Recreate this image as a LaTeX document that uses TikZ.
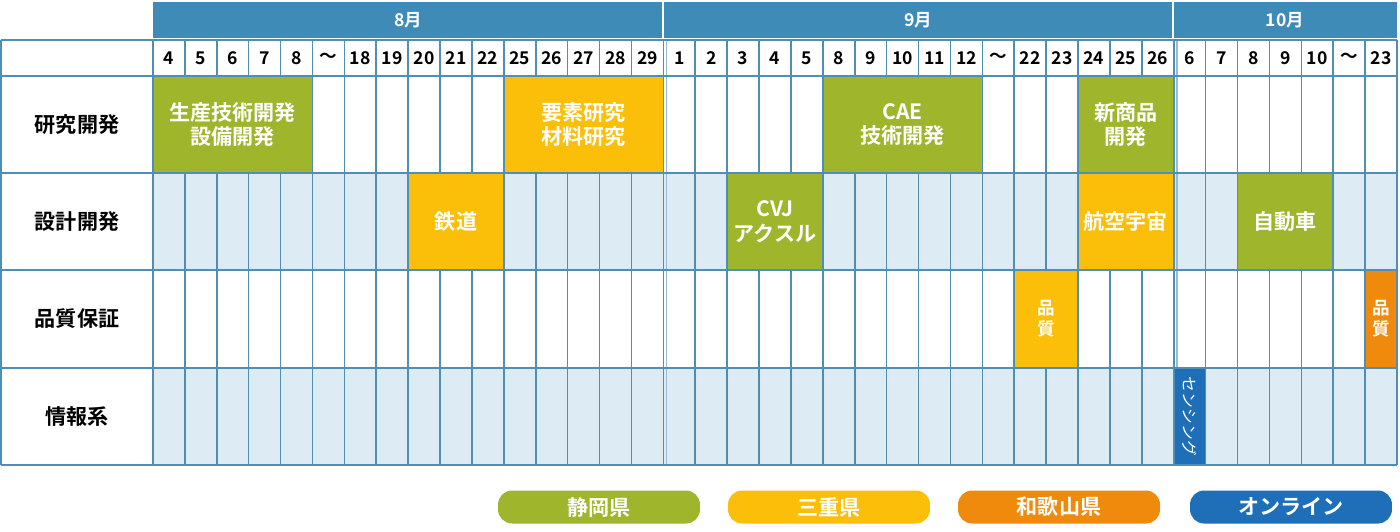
\documentclass[tikz,border=0pt]{standalone}
\usepackage{fontspec}
\setmainfont{Noto Sans CJK JP}[BoldFont={Noto Sans CJK JP Bold}]
\definecolor{gridc}{HTML}{4F8FB5}
\definecolor{headc}{HTML}{3F8BB8}
\definecolor{paleb}{HTML}{DDEBF5}
\definecolor{shizuoka}{HTML}{9EB52C}
\definecolor{mie}{HTML}{FBBF0A}
\definecolor{wakayama}{HTML}{EF8A0C}
\definecolor{online}{HTML}{1F6FB8}
\newcommand{\cw}{31.897}
\tikzset{
  block/.style={inner sep=0pt, text=white, font=\bfseries\large, align=center},
  day/.style={font=\bfseries, text=black},
  rowlab/.style={font=\bfseries\large, text=black},
  pill/.style={rounded corners=8pt, text=white, font=\bfseries\large, minimum width=4.04cm, minimum height=0.66cm, inner sep=0pt}
}
\begin{document}
\begin{tikzpicture}[x=0.02cm,y=-0.02cm]
\useasboundingbox (0,0) rectangle (1400,531);
% row backgrounds
\fill[paleb] (153,173) rectangle (1397,270);
\fill[paleb] (153,368) rectangle (1397,465);
\fill[headc] (153,2) rectangle (1397,38);
\node[text=white, font=\bfseries] (m8) at (408,20) {8月};
\node[text=white, font=\bfseries] (m9) at (918,20) {9月};
\node[text=white, font=\bfseries] (m10) at (1285,20) {10月};
\draw[white, line width=1.2pt] (663,2) -- (663,38) (1173,2) -- (1173,38);
% grid
\foreach \i in {0,...,39}
  \draw[gridc, line width=0.9pt] ({153+\i*\cw},40) -- ({153+\i*\cw},465);
\draw[gridc!60, line width=0.9pt] ({153+16*\cw+3},40) -- ({153+16*\cw+3},465)
  ({153+32*\cw+3},40) -- ({153+32*\cw+3},465);
\foreach \y in {40,76,173,270,368,465}
  \draw[gridc, line width=0.9pt] (1,\y) -- (1397,\y);
\draw[gridc, line width=0.9pt] (1,40) -- (1,465);
% blocks (col from, col to, row top, row bottom)
\newcommand{\blk}[6]{\node[block, fill=#5, draw=gridc, line width=0.9pt, minimum width={(#2-#1+1)*\cw*0.02cm}, minimum height={(#4-#3)*0.02cm}]
  (#6) at ({153+(#1+#2+1)/2*\cw},{(#3+#4)/2}) {};}
\blk{0}{4}{76}{173}{shizuoka}{seisan}
\blk{11}{15}{76}{173}{mie}{yoso}
\blk{21}{25}{76}{173}{shizuoka}{cae}
\blk{29}{31}{76}{173}{shizuoka}{shin}
\blk{8}{10}{173}{270}{mie}{tetsudo}
\blk{18}{20}{173}{270}{shizuoka}{cvj}
\blk{29}{31}{173}{270}{mie}{koku}
\blk{34}{36}{173}{270}{shizuoka}{jidosha}
\blk{27}{28}{270}{368}{mie}{hinshitsuA}
\blk{38}{38}{270}{368}{wakayama}{hinshitsuB}
\blk{32}{32}{368}{465}{online}{sensing}
% day labels
\foreach \d [count=\i from 0] in {4,5,6,7,8,〜,18,19,20,21,22,25,26,27,28,29,1,2,3,4,5,8,9,10,11,12,〜,22,23,24,25,26,6,7,8,9,10,〜,23}
  \node[day] (d\i) at ({153+(\i+0.5)*\cw},58) {\d};
% block texts
\node[block] at (seisan) {生産技術開発\\設備開発};
\node[block] at (yoso) {要素研究\\材料研究};
\node[block] at (cae) {CAE\\技術開発};
\node[block] at (shin) {新商品\\開発};
\node[block] at (tetsudo) {鉄道};
\node[block] at (cvj) {CVJ\\アクスル};
\node[block] at (koku) {航空宇宙};
\node[block] at (jidosha) {自動車};
\node[block, font=\bfseries] at (hinshitsuA) {品\\質};
\node[block, font=\bfseries] at (hinshitsuB) {品\\質};
\node[block, font=\small, rotate=-90] at (sensing) {センシング};
% row labels
\node[rowlab] (r1) at (77,125) {研究開発};
\node[rowlab] (r2) at (77,222) {設計開発};
\node[rowlab] (r3) at (77,319) {品質保証};
\node[rowlab] (r4) at (77,417) {情報系};
% legend
\node[pill, fill=shizuoka] (lg1) at (599,507) {静岡県};
\node[pill, fill=mie] (lg2) at (829,507) {三重県};
\node[pill, fill=wakayama] (lg3) at (1059,507) {和歌山県};
\node[pill, fill=online] (lg4) at (1291,507) {オンライン};
\end{tikzpicture}
\end{document}
